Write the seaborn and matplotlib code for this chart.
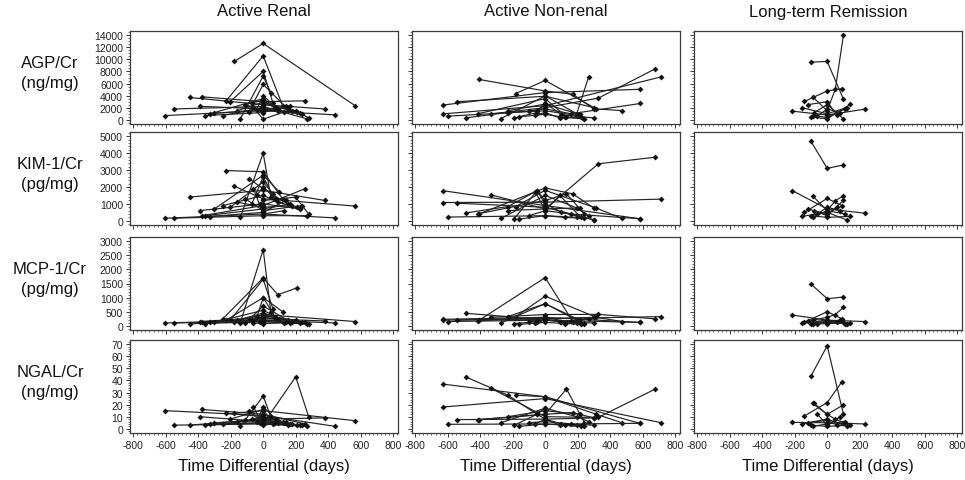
import numpy as np
import pandas as pd
import matplotlib
matplotlib.use("Agg")
import matplotlib.pyplot as plt
from matplotlib.ticker import MultipleLocator, AutoMinorLocator
import seaborn as sns

# ---------------- data ----------------
groups = ["Active Renal", "Active Non-renal", "Long-term Remission"]
marker_labels = ["AGP/Cr\n(ng/mg)", "KIM-1/Cr\n(pg/mg)", "MCP-1/Cr\n(pg/mg)", "NGAL/Cr\n(ng/mg)"]
marker_keys = ["agp", "kim", "mcp", "ngal"]
y_max = [14000, 5000, 3000, 70]
y_step = [2000, 1000, 500, 10]
x_ticks = [-800, -600, -400, -200, 0, 200, 400, 600, 800]

# Active Renal: visit days per patient and values per marker
ar_days = [
    [-178, 0, 566], [-603, 0, 443], [-552, 0, 268], [-453, 0, 381], [-377, 0, 258],
    [-392, 0, 228], [-357, 0, 166], [-228, 0, 120], [-248, 0, 90, 210], [-203, 0, 60],
    [-141, 0, 47], [-90, 0, 150], [-60, 0, 130], [-20, 0, 200, 280], [-300, 0, 100],
    [-160, 0, 180], [-110, 0, 240], [-40, 0, 80], [-330, 0, 140], [-70, 0, 70],
]
ar_agp = [
    [9660, 12640, 2330], [700, 1500, 810], [1790, 2200, 160], [3690, 2500, 1790], [3800, 3000, 3140],
    [2230, 1800, 1040], [700, 1200, 2330], [3140, 10580, 2300], [700, 2000, 1500, 1300], [3000, 8020, 2800],
    [160, 7210, 4500], [1250, 5860, 1800], [2000, 100, 1300], [1800, 2600, 1500, 300], [1200, 3500, 1600],
    [1500, 2900, 1400], [2500, 1600, 1000], [1700, 4000, 2000], [1000, 1700, 2200], [2800, 3200, 2000],
]
ar_kim = [
    [2050, 1300, 870], [150, 400, 170], [150, 300, 300], [1400, 1800, 1200], [300, 900, 1900],
    [600, 1000, 700], [300, 700, 1000], [2970, 2900, 1300], [900, 1500, 1100, 800], [800, 2300, 1600],
    [200, 4000, 1400], [2500, 1900, 1000], [1900, 400, 600], [1000, 1200, 1400, 400], [700, 2700, 1700],
    [1100, 800, 900], [1300, 600, 900], [1500, 2000, 1300], [250, 500, 1200], [1000, 2600, 1300],
]
ar_mcp = [
    [150, 400, 150], [100, 200, 100], [100, 150, 60], [60, 250, 170], [150, 300, 120],
    [150, 200, 100], [80, 150, 100], [200, 1000, 500], [250, 1700, 1100, 1350], [200, 1650, 600],
    [100, 2700, 500], [200, 700, 200], [100, 80, 100], [150, 350, 200, 80], [120, 550, 250],
    [200, 450, 150], [100, 300, 120], [300, 1000, 250], [120, 200, 150], [200, 400, 300],
]
ar_ngal = [
    [13, 15, 6.7], [15, 11, 2], [3, 4, 2], [3, 8, 9], [16, 12, 4],
    [10, 6, 3], [3, 5, 4], [13, 10, 6], [4, 8, 5, 3], [8, 16, 4],
    [2, 27, 10], [15, 5, 3], [18, 3, 5], [5, 4, 43, 10], [5, 7, 6],
    [6, 9, 4], [7, 6, 3], [6, 18, 8], [4, 5, 6], [8, 10, 5],
]

# Active Non-renal
an_days = [
    [-630, 0, 582], [-630, 0, 715], [-600, 0, 194], [-406, 0, 170, 300],
    [-333, 0, 327, 679], [-182, 0, 315, 473], [-273, 0, 194, 267], [-415, 0, 131, 242],
    [-190, -50, 0, 100, 303], [-230, 0, 212], [-100, 0, 160, 586], [-60, 0, 90, 220],
    [-160, 0, 120, 240], [-485, -230, -50, 0], [-545, 0, 303],
]
an_agp = [
    [2440, 4500, 5050], [980, 2330, 7110], [600, 1500, 700], [6670, 4770, 4230, 1790],
    [980, 2000, 3580, 8460], [4340, 6510, 1790, 1520], [200, 3960, 1000, 7050], [1000, 3500, 500, 100],
    [300, 1200, 2800, 800, 300], [1500, 2600, 900], [1500, 1800, 1000, 2700], [800, 1200, 300, 400],
    [500, 900, 400, 200], [330, 1200, 1500, 2600], [2980, 3900, 2000],
]
an_kim = [
    [1780, 900, 120], [1080, 1100, 1280], [220, 300, 200], [410, 1940, 1590, 750],
    [1530, 700, 3370, 3760], [840, 1800, 750, 135], [135, 1500, 760, 300], [410, 1200, 1590, 400],
    [130, 1780, 1000, 500, 50], [600, 700, 760], [300, 600, 400, 120], [1700, 600, 1500, 200],
    [100, 300, 200, 150], [470, 840, 1780, 1200], [1040, 800, 50],
]
an_mcp = [
    [230, 300, 120], [200, 250, 325], [150, 200, 100], [200, 1710, 150, 300],
    [300, 400, 405, 245], [325, 1050, 300, 150], [100, 785, 200, 250], [180, 300, 150, 100],
    [80, 150, 250, 120, 100], [325, 785, 200], [150, 200, 180, 118], [100, 200, 150, 80],
    [50, 120, 80, 60], [440, 325, 200, 300], [200, 250, 300],
]
an_ngal = [
    [37, 26.5, 4.5], [18, 25, 5], [3.7, 4, 3], [7.6, 12, 13.4, 9],
    [33.6, 10, 9.4, 33], [27.8, 26.5, 12, 5], [5, 17, 10, 6], [7.6, 12, 33, 5],
    [3, 12, 8, 4, 3], [10, 15, 12], [5, 6, 4, 4.5], [4, 8, 3, 2],
    [2, 4, 3, 2], [42.7, 27.8, 12, 17], [7.6, 8, 9],
]

# Long-term Remission
lr_days = [
    [-100, 0, 100], [-90, 0, 50, 100], [-214, 0, 230], [-140, 0, 90], [-100, 0, 140],
    [-80, 0, 100], [-155, 0, 120], [-60, 0, 80], [-120, 0, 60], [-90, 0, 110],
]
lr_agp = [
    [9550, 9660, 3420], [3800, 1500, 5050, 14000], [1420, 800, 1750], [3040, 4770, 5150], [440, 160, 2530],
    [1200, 2500, 160], [2000, 1000, 2000], [600, 1800, 1200], [2500, 3000, 800], [700, 400, 1800],
]
lr_kim = [
    [4700, 3100, 3300], [1470, 600, 1190, 1470], [1780, 700, 450], [500, 1320, 900], [300, 200, 260],
    [600, 300, 1200], [260, 500, 50], [400, 800, 600], [700, 400, 800], [200, 600, 400],
]
lr_mcp = [
    [1480, 960, 1020], [200, 300, 400, 650], [380, 200, 150], [124, 500, 250], [50, 80, 100],
    [150, 200, 120], [100, 150, 60], [80, 120, 200], [180, 100, 150], [60, 150, 80],
]
lr_ngal = [
    [43.6, 68.7, 12], [21, 11.9, 8, 5], [5.3, 5, 4], [10.6, 21.7, 38.8], [3, 2, 3],
    [21, 11.9, 19.8], [4, 8, 2], [12, 3, 10], [5, 7, 3], [2, 4, 6],
]

group_days = {"Active Renal": ar_days, "Active Non-renal": an_days, "Long-term Remission": lr_days}
group_vals = {
    "Active Renal": {"agp": ar_agp, "kim": ar_kim, "mcp": ar_mcp, "ngal": ar_ngal},
    "Active Non-renal": {"agp": an_agp, "kim": an_kim, "mcp": an_mcp, "ngal": an_ngal},
    "Long-term Remission": {"agp": lr_agp, "kim": lr_kim, "mcp": lr_mcp, "ngal": lr_ngal},
}

rows = []
for g in groups:
    for mk in marker_keys:
        for pid, (days, vals) in enumerate(zip(group_days[g], group_vals[g][mk])):
            for d, v in zip(days, vals):
                rows.append({"group": g, "marker": mk, "patient": pid, "day": d, "value": v})
df = pd.DataFrame(rows)

# ---------------- plot ----------------
sns.set_style("ticks")
plt.rcParams["font.family"] = ["Liberation Sans", "DejaVu Sans"]
plt.rcParams["axes.unicode_minus"] = False

W, H = 965, 481
fig = plt.figure(figsize=(W / 100, H / 100), dpi=100)

col_left = [130, 412, 694]
col_w = 268
row_top = [32, 133, 238, 341]
row_h = 93
axis_col = "#3a3a3a"

for r, mk in enumerate(marker_keys):
    for c, g in enumerate(groups):
        ax = fig.add_axes([col_left[c] / W, 1 - (row_top[r] + row_h) / H, col_w / W, row_h / H])
        sub = df[(df.group == g) & (df.marker == mk)]
        sns.lineplot(data=sub, x="day", y="value", units="patient", estimator=None,
                     color="#222222", linewidth=0.85, marker="D", markersize=3.0,
                     markeredgewidth=0, markerfacecolor="#111111", legend=False, ax=ax)
        ax.set_xlim(-820, 830)
        M = y_max[r]
        ax.set_ylim(-0.05 * M, 1.05 * M)
        ax.xaxis.set_major_locator(MultipleLocator(200))
        ax.xaxis.set_minor_locator(MultipleLocator(25))
        ax.yaxis.set_major_locator(MultipleLocator(y_step[r]))
        ax.yaxis.set_minor_locator(AutoMinorLocator(4 if r == 0 else 5))
        ax.set_xlabel("")
        ax.set_ylabel("")
        ax.tick_params(which="major", direction="out", length=3, width=0.7, color=axis_col,
                       labelsize=7.5, pad=2, labelcolor="#222222")
        ax.tick_params(which="minor", direction="out", length=1.6, width=0.5, color=axis_col)
        for s in ax.spines.values():
            s.set_visible(True)
            s.set_color(axis_col)
            s.set_linewidth(0.9)
        if c != 0:
            ax.tick_params(axis="y", labelleft=False)
        if r != 3:
            ax.tick_params(axis="x", labelbottom=False)
        else:
            ax.set_xticks(x_ticks)

for c, g in enumerate(groups):
    cx = (col_left[c] + col_w / 2) / W
    fig.text(cx, 1 - 12 / H, g, ha="center", va="center", fontsize=12, color="#111111")
    fig.text(cx, 1 - 467 / H, "Time Differential (days)", ha="center", va="center",
             fontsize=12, color="#111111")

for r, lab in enumerate(marker_labels):
    cy = 1 - (row_top[r] + row_h / 2 - 5) / H
    fig.text(50 / W, cy, lab, ha="center", va="center", fontsize=12,
             linespacing=1.35, color="#111111")

fig.savefig("out.png", dpi=100)
